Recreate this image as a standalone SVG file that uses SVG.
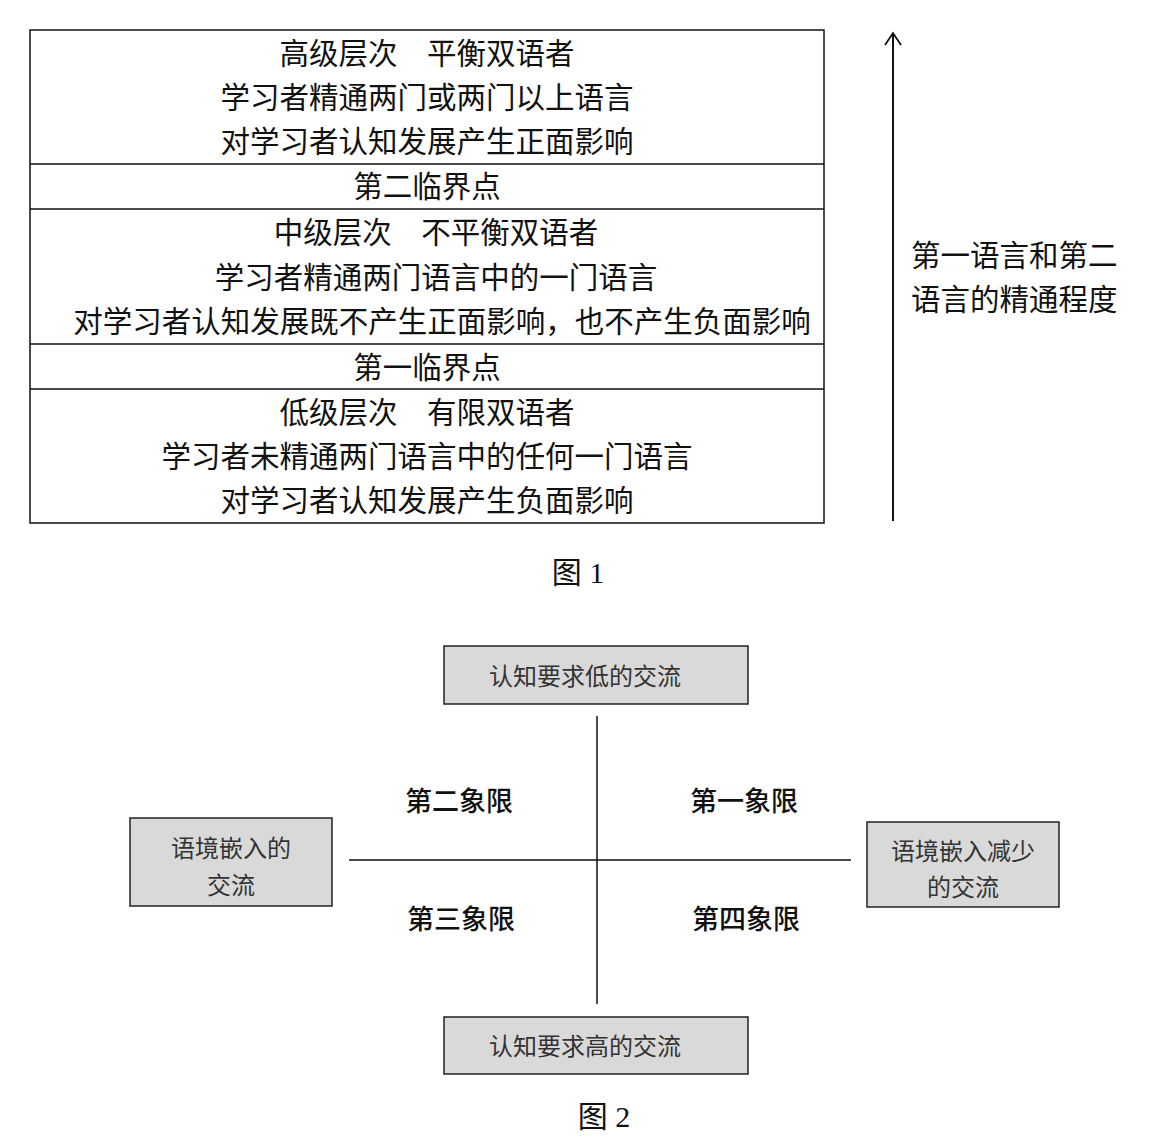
<svg xmlns="http://www.w3.org/2000/svg" width="1170" height="1141" viewBox="0 0 1170 1141">
<style>
text{font-family:"Noto Sans CJK SC","Liberation Sans",sans-serif;fill:#111}
.t{font-size:29.5px;text-anchor:middle}
.r{font-size:29.5px}
.cap{font-family:"Liberation Serif","Noto Sans CJK SC",serif;font-size:30px;text-anchor:middle}
.bx{fill:#d9d9d9;stroke:#222;stroke-width:1.5}
.bt{font-size:24px;text-anchor:middle;fill:#333}
.q{font-size:27px;text-anchor:middle;font-weight:500}
.ln{stroke:#111;stroke-width:1.5;fill:none}
.ax{stroke:#111;stroke-width:2;fill:none}
</style>
<defs>
<marker id="ah" viewBox="0 0 20 20" refX="14" refY="10" markerWidth="20" markerHeight="20" markerUnits="userSpaceOnUse" orient="auto">
<path d="M2 2 L14 10 L2 18" fill="none" stroke="#111" stroke-width="1.8"/>
</marker>
</defs>
<rect width="1170" height="1141" fill="#fff"/>
<g id="table">
<rect x="30" y="30" width="794" height="493" class="ln"/>
<line x1="30" y1="164" x2="824" y2="164" class="ln"/>
<line x1="30" y1="209" x2="824" y2="209" class="ln"/>
<line x1="30" y1="344" x2="824" y2="344" class="ln"/>
<line x1="30" y1="389" x2="824" y2="389" class="ln"/>
</g>
<g id="row-high">
<text class="t" x="427" y="64">高级层次　平衡双语者</text>
<text class="t" x="427" y="108">学习者精通两门或两门以上语言</text>
<text class="t" x="427" y="152">对学习者认知发展产生正面影响</text>
</g>
<g id="row-threshold2"><text class="t" x="427" y="197">第二临界点</text></g>
<g id="row-mid">
<text class="t" x="436" y="243">中级层次　不平衡双语者</text>
<text class="t" x="436" y="288">学习者精通两门语言中的一门语言</text>
<text class="t" x="442" y="332">对学习者认知发展既不产生正面影响，也不产生负面影响</text>
</g>
<g id="row-threshold1"><text class="t" x="427" y="378">第一临界点</text></g>
<g id="row-low">
<text class="t" x="427" y="423">低级层次　有限双语者</text>
<text class="t" x="427" y="467">学习者未精通两门语言中的任何一门语言</text>
<text class="t" x="427" y="511">对学习者认知发展产生负面影响</text>
</g>
<g id="axis-label">
<text class="r" x="911" y="266">第一语言和第二</text>
<text class="r" x="911" y="310">语言的精通程度</text>
</g>
<g id="caption1"><text class="cap" x="578" y="583">图 1</text></g>
<g id="connectors">
<line x1="893" y1="521" x2="893" y2="33" class="ax" marker-end="url(#ah)"/>
<line x1="597" y1="716" x2="597" y2="1004" class="ln"/>
<line x1="349" y1="860" x2="851" y2="860" class="ln"/>
</g>
<g id="box-top">
<rect x="444" y="646" width="304" height="58" class="bx"/>
<text class="bt" x="585" y="685">认知要求低的交流</text>
</g>
<g id="box-left">
<rect x="130" y="818" width="202" height="88" class="bx"/>
<text class="bt" x="231" y="857">语境嵌入的</text>
<text class="bt" x="231" y="894">交流</text>
</g>
<g id="box-right">
<rect x="867" y="822" width="192" height="85" class="bx"/>
<text class="bt" x="963" y="860">语境嵌入减少</text>
<text class="bt" x="963" y="896">的交流</text>
</g>
<g id="box-bottom">
<rect x="444" y="1017" width="304" height="57" class="bx"/>
<text class="bt" x="585" y="1055">认知要求高的交流</text>
</g>
<g id="quadrants">
<text class="q" x="459" y="811">第二象限</text>
<text class="q" x="744" y="811">第一象限</text>
<text class="q" x="461" y="929">第三象限</text>
<text class="q" x="746" y="929">第四象限</text>
</g>
<g id="caption2"><text class="cap" x="604" y="1127">图 2</text></g>
</svg>
